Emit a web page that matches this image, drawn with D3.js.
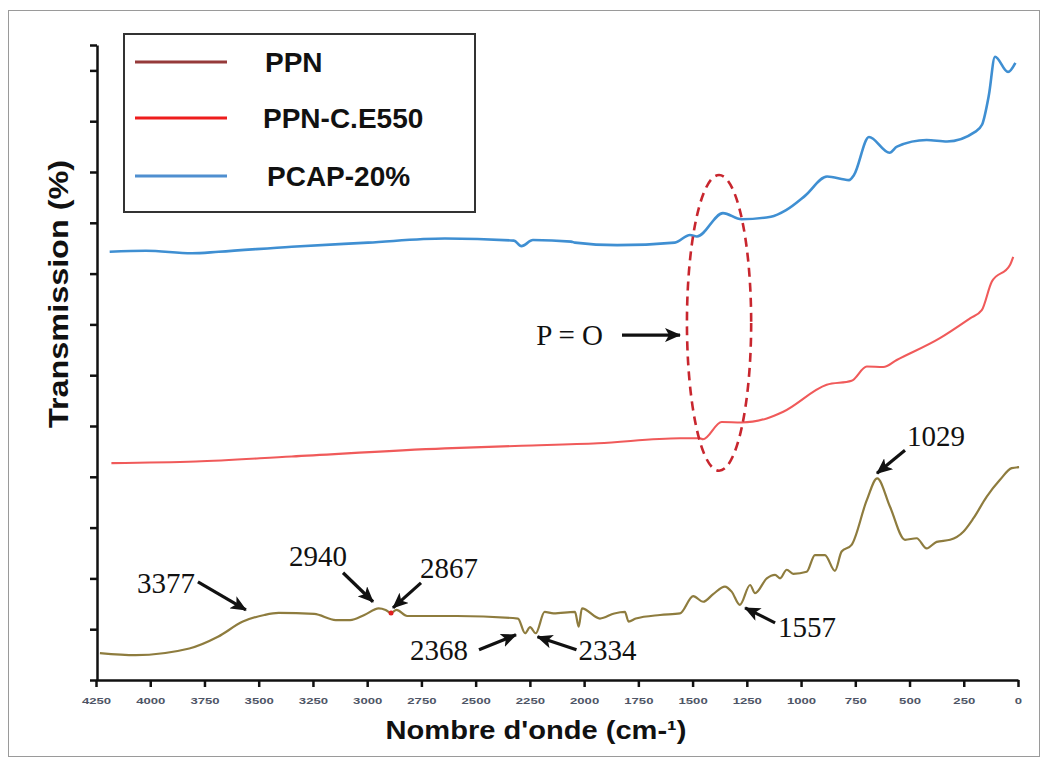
<!DOCTYPE html>
<html>
<head>
<meta charset="utf-8">
<script src="https://cdn.jsdelivr.net/npm/d3@7"></script>
<style>
body { margin: 0; background: #fff; }
</style>
</head>
<body>
<script>
// wavenumber (cm-1) / transmission values
var ppn_wave = [4232, 4067, 3820, 3688, 3573, 3474, 3408, 3244, 3145, 3079, 3013, 2947, 2915, 2890, 2865, 2816, 2586,
  2305, 2272, 2249, 2223, 2182, 2141, 2042, 2025, 2010, 1927, 1861, 1812, 1795, 1762, 1650, 1558, 1497, 1451, 1405,
  1351, 1320, 1282, 1235, 1212, 1158, 1120, 1097, 1066, 1036, 974, 936, 890, 844, 813, 767, 697, 649, 590, 521, 467,
  421, 375, 313, 252, 206, 144, 83, 29, -5];
var ppn_trans = [5.3, 4.9, 6.2, 8.5, 11.5, 12.8, 13.2, 13.0, 11.8, 11.8, 12.8, 14.1, 13.8, 13.2, 13.8, 12.6, 12.6,
  12.1, 9.2, 10.4, 9.2, 13.4, 13.1, 13.4, 10.5, 14.1, 12.1, 13.1, 13.4, 11.5, 12.1, 12.8, 13.1, 16.5, 15.4, 16.9,
  18.4, 17.4, 14.8, 18.7, 17.1, 20.0, 20.7, 20.0, 21.7, 20.9, 21.3, 24.6, 24.6, 21.5, 25.3, 26.6, 35.4, 39.7, 34.1,
  27.6, 27.9, 25.9, 27.2, 27.6, 29.2, 31.8, 36.1, 39.4, 41.7, 41.9];

var ce550_wave = [4179, 3790, 3348, 2642, 2289, 1936, 1558, 1466, 1452, 1366, 1274, 1158, 1082, 882, 767, 697, 621,
  559, 360, 221, 167, 121, 37, 22];
var ce550_trans = [42.7, 43.0, 44.0, 45.6, 46.1, 46.6, 47.6, 47.6, 47.4, 50.8, 50.7, 51.5, 52.8, 58.1, 58.9, 61.7,
  61.6, 63.0, 67.3, 71.2, 72.8, 78.4, 81.7, 83.3];

var pcap_wave = [4187, 4020, 3808, 3684, 3348, 2996, 2642, 2324, 2289, 2236, 2060, 2042, 1848, 1582, 1512, 1480,
  1360, 1275, 1139, 1069, 982, 880, 779, 756, 687, 592, 558, 421, 327, 198, 166, 134, 106, 46, 12];
var pcap_trans = [84.3, 84.5, 84.0, 84.3, 85.3, 86.1, 86.9, 86.5, 85.4, 86.6, 86.3, 86.1, 85.6, 86.1, 87.6, 87.3,
  91.9, 90.7, 91.2, 92.5, 95.3, 99.1, 98.4, 99.4, 106.9, 103.8, 105.0, 106.3, 106.0, 107.9, 109.3, 115.2, 122.7,
  119.7, 121.5];

var series_names = ["PPN", "PPN-C.E550", "PCAP-20%"];
var x_ticks = d3.range(4250, -1, -250);

// peak annotations
var peak_labels = ["3377", "2940", "2867", "2368", "2334", "1557", "1029", "P = O"];
var peak_wave = [3559, 2973, 2881, 2314, 2215, 1258, 650, 1558];
var peak_trans = [13.8, 15.4, 14.2, 8.9, 8.5, 14.2, 40.7, 67.9];
// arrow tail offset, label offset (px) and anchor
var peak_layout = [
  [-48, -28, -51, -17, "end"], [-30, -29, -55, -36, "middle"], [28, -25, 27, -30, "start"],
  [-37, 15, -48, 25, "end"], [39, 13, 41, 23, "start"], [30, 15, 33, 29, "start"],
  [28, -23, 30, -27, "start"], [-58, 0, -77, 10, "end"]];
var ellipse_wave = 1378, ellipse_trans = 70.3, ellipse_rwave = 148, ellipse_rtrans = 29.1;
var dot_wave = 2890, dot_trans = 13.2;

var W = 1047, H = 761;
var svg = d3.select("body").append("svg").attr("width", W).attr("height", H);

svg.append("rect").attr("x", 8.5).attr("y", 10.5).attr("width", 1031).attr("height", 746)
  .attr("fill", "none").attr("stroke", "#9a9a9a").attr("stroke-width", 1);

var x = d3.scaleLinear().domain([4250, 0]).range([96, 1018]);
var y = d3.scaleLinear().domain([0, 125]).range([680, 45]);

// axes
var xAxis = svg.append("g").attr("transform", "translate(0,680)")
  .call(d3.axisBottom(x).tickValues(x_ticks).tickSize(7).tickSizeOuter(0).tickFormat(d3.format("d")));
xAxis.select(".domain").attr("stroke", "#111").attr("stroke-width", 2.5);
xAxis.selectAll(".tick line").attr("stroke", "#111").attr("stroke-width", 2.5);
xAxis.selectAll(".tick text")
  .attr("y", 18)
  .attr("font-family", "Liberation Sans, Arial, sans-serif")
  .attr("font-size", 9).attr("font-weight", "bold").attr("fill", "#4e5566")
  .attr("textLength", function(d) { return String(d).length * 7.3; })
  .attr("lengthAdjust", "spacingAndGlyphs");

var yAxis = svg.append("g").attr("transform", "translate(97,0)")
  .call(d3.axisLeft(y).tickValues(d3.range(0, 121, 10).concat([125])).tickSize(7).tickSizeOuter(0).tickFormat(""));
yAxis.select(".domain").attr("stroke", "#111").attr("stroke-width", 2.5);
yAxis.selectAll(".tick line").attr("stroke", "#111").attr("stroke-width", 2.5);

svg.append("text")
  .attr("transform", "translate(68,294) rotate(-90)")
  .attr("text-anchor", "middle")
  .attr("font-family", "Liberation Sans, Arial, sans-serif")
  .attr("font-size", 27).attr("font-weight", "bold").attr("fill", "#111")
  .attr("textLength", 268).attr("lengthAdjust", "spacingAndGlyphs")
  .text("Transmission (%)");

svg.append("text")
  .attr("x", 536).attr("y", 739)
  .attr("text-anchor", "middle")
  .attr("font-family", "Liberation Sans, Arial, sans-serif")
  .attr("font-size", 26).attr("font-weight", "bold").attr("fill", "#111")
  .attr("textLength", 301).attr("lengthAdjust", "spacingAndGlyphs")
  .text("Nombre d'onde (cm-\u00b9)");

// curves
var line = d3.line()
  .x(function(d) { return x(d[0]); })
  .y(function(d) { return y(d[1]); })
  .curve(d3.curveMonotoneX);

function pairs(a, b) { return a.map(function(v, i) { return [v, b[i]]; }); }

svg.append("path").attr("d", line(pairs(pcap_wave, pcap_trans)))
  .attr("fill", "none").attr("stroke", "#3f8fd2").attr("stroke-width", 2.6).attr("stroke-linejoin", "round");
svg.append("path").attr("d", line(pairs(ce550_wave, ce550_trans)))
  .attr("fill", "none").attr("stroke", "#f05a5a").attr("stroke-width", 2.1).attr("stroke-linejoin", "round");
svg.append("path").attr("d", line(pairs(ppn_wave, ppn_trans)))
  .attr("fill", "none").attr("stroke", "#8e7c3e").attr("stroke-width", 2.2).attr("stroke-linejoin", "round");

svg.append("circle").attr("cx", x(dot_wave)).attr("cy", y(dot_trans)).attr("r", 2.5).attr("fill", "#e02020");

// dashed ellipse round the P=O band
svg.append("ellipse")
  .attr("cx", x(ellipse_wave)).attr("cy", y(ellipse_trans))
  .attr("rx", x(ellipse_wave - ellipse_rwave) - x(ellipse_wave))
  .attr("ry", y(ellipse_trans - ellipse_rtrans) - y(ellipse_trans))
  .attr("fill", "none").attr("stroke", "#c8262e").attr("stroke-width", 2.6)
  .attr("stroke-dasharray", "9,6");

// arrows + labels
svg.append("defs").append("marker")
  .attr("id", "head").attr("markerUnits", "userSpaceOnUse")
  .attr("viewBox", "0 0 16 14").attr("markerWidth", 16).attr("markerHeight", 14)
  .attr("refX", 15).attr("refY", 7).attr("orient", "auto")
  .append("path").attr("d", "M0,0 L16,7 L0,14 L4,7 z").attr("fill", "#111");

peak_labels.forEach(function(lab, i) {
  var px = x(peak_wave[i]), py = y(peak_trans[i]), L = peak_layout[i];
  svg.append("line")
    .attr("x1", px + L[0]).attr("y1", py + L[1])
    .attr("x2", px).attr("y2", py)
    .attr("stroke", "#111").attr("stroke-width", 3.2)
    .attr("marker-end", "url(#head)");
  svg.append("text")
    .attr("x", px + L[2]).attr("y", py + L[3])
    .attr("text-anchor", L[4])
    .attr("font-family", "Liberation Serif, Times New Roman, serif")
    .attr("font-size", 29).attr("fill", "#111")
    .text(lab);
});

// legend
var legend = svg.append("g");
legend.append("rect").attr("x", 124).attr("y", 34).attr("width", 351).attr("height", 178)
  .attr("fill", "#fff").attr("stroke", "#333").attr("stroke-width", 2);
var legend_colors = ["#963a3a", "#ee1c1c", "#4f8fd0"];
var legend_y = [62, 118, 176];
var legend_tx = [265, 263, 267];
series_names.forEach(function(name, i) {
  legend.append("line").attr("x1", 135).attr("x2", 227)
    .attr("y1", legend_y[i]).attr("y2", legend_y[i])
    .attr("stroke", legend_colors[i]).attr("stroke-width", 3.2);
  legend.append("text").attr("x", legend_tx[i]).attr("y", legend_y[i] + 10)
    .attr("font-family", "Liberation Sans, Arial, sans-serif")
    .attr("font-size", 28).attr("font-weight", "bold").attr("fill", "#111")
    .text(name);
});
</script>
</body>
</html>
